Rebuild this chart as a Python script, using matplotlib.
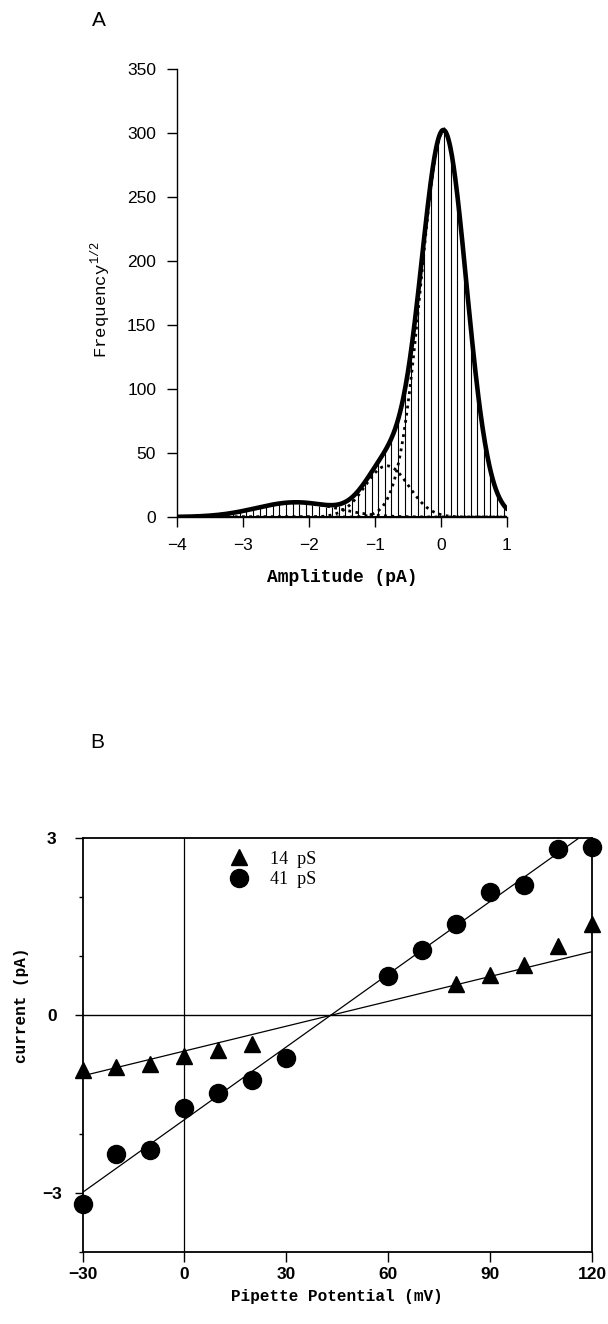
import matplotlib
matplotlib.use('Agg')
import matplotlib.pyplot as plt
import numpy as np

# ---- panel A: amplitude histogram (sqrt frequency) ----
bin_lo = -4.0
bin_w = 0.1
hist_vals = [0.5, 0.5, 0.6, 0.8, 1.0, 1.3, 1.8, 2.4, 3.2, 4.0,
             5.0, 6.2, 7.5, 8.5, 9.5, 10.0, 10.5, 10.8, 10.5, 10.0,
             9.3, 8.8, 8.2, 8.0, 8.6, 10.5, 14.0, 19.5, 26.0, 34.0,
             42.0, 50.0, 60.0, 76.0, 100.0, 132.0, 176.0, 222.0, 268.0, 296.0,
             305.0, 288.0, 250.0, 198.0, 145.0, 97.0, 59.0, 33.0, 16.0, 7.0]

# gaussian fit components (amplitude, mean pA, sd pA)
fit_amp = [301, 40, 11.5]
fit_mean = [0.04, -0.82, -2.2]
fit_sd = [0.345, 0.33, 0.6]

# ---- panel B: I-V relation ----
v14 = [-30, -20, -10, 0, 10, 20, 80, 90, 100, 110, 120]
i14 = [-0.93, -0.88, -0.82, -0.69, -0.58, -0.49, 0.53, 0.68, 0.86, 1.18, 1.55]
v41 = [-30, -20, -10, 0, 10, 20, 30, 60, 70, 80, 90, 100, 110, 120]
i41 = [-3.19, -2.34, -2.28, -1.57, -1.31, -1.09, -0.72, 0.66, 1.10, 1.55, 2.09, 2.21, 2.81, 2.85]
g_pS = [14, 41]
v_rev = 43.0

W, H = 608, 1324
fig = plt.figure(figsize=(W / 100, H / 100), dpi=100)

def px(x0, y0, x1, y1):
    return [x0 / W, 1 - y1 / H, (x1 - x0) / W, (y1 - y0) / H]

tickfont = 'Liberation Sans'
mono = 'Liberation Mono'

# ===== A =====
ax1 = fig.add_axes(px(177, 69, 507, 517))
centers = bin_lo + bin_w * (np.arange(len(hist_vals)) + 0.5)
ax1.vlines(centers, 0, hist_vals, color='black', linewidth=0.8)

xx = np.linspace(-4, 1, 600)
comps = [a * np.exp(-(xx - m) ** 2 / (2 * s ** 2)) for a, m, s in zip(fit_amp, fit_mean, fit_sd)]
for c in comps:
    ax1.plot(xx, c, color='black', linestyle=(0, (1, 1.6)), linewidth=2.0)
ax1.plot(xx, np.sum(comps, axis=0), color='black', linewidth=3.3, solid_capstyle='round')
ax1.axhline(0, color='black', linewidth=1.5)

ax1.set_xlim(-4, 1)
ax1.set_ylim(0, 350)
ax1.set_xticks(range(-4, 2))
ax1.set_xticklabels(['\u22124', '\u22123', '\u22122', '\u22121', '0', '1'])
ax1.set_yticks(range(0, 351, 50))
for s in ['top', 'right']:
    ax1.spines[s].set_visible(False)
for s in ['left', 'bottom']:
    ax1.spines[s].set_linewidth(1.0)
ax1.tick_params(direction='out', length=7, width=1.0, pad=8, labelsize=12.5)
for lab in ax1.get_xticklabels() + ax1.get_yticklabels():
    lab.set_family(tickfont)

fig.text(99 / W, 1 - 20 / H, 'A', fontsize=15, family=tickfont, ha='center', va='center')
fig.text(342 / W, 1 - 578 / H, 'Amplitude (pA)', fontsize=13, family=mono,
         weight='bold', ha='center', va='center')
fig.text(100 / W, 1 - 300 / H, 'Frequency$^{\\mathregular{1/2}}$', fontsize=12.5, family=mono,
         rotation=90, ha='center', va='center')

# ===== B =====
ax2 = fig.add_axes(px(82.5, 838, 592, 1252))
ax2.axhline(0, color='black', linewidth=1.0)
ax2.axvline(0, color='black', linewidth=0.9)

vv = np.array([-30, 120])
for g in g_pS:
    ax2.plot(vv, g * (vv - v_rev) / 1000.0, color='black', linewidth=0.9)

ax2.plot(v14, i14, linestyle='none', marker='^', markersize=11.5, color='black', label='14  pS', clip_on=False)
ax2.plot(v41, i41, linestyle='none', marker='o', markersize=13, color='black', label='41  pS', clip_on=False)

ax2.set_xlim(-30, 120)
ax2.set_ylim(-4, 3)
ax2.set_xticks(range(-30, 121, 30))
ax2.set_xticklabels(['\u221230', '0', '30', '60', '90', '120'])
ax2.set_yticks([-3, 0, 3])
ax2.set_yticklabels(['\u22123', '0', '3'])
ax2.set_yticks([-4, -2, -1, 1, 2], minor=True)
for s in ax2.spines.values():
    s.set_linewidth(1.3)
ax2.tick_params(axis='x', direction='out', length=7, width=1.0, pad=4, labelsize=12.5)
ax2.tick_params(axis='y', which='major', direction='out', length=6, width=1.0, pad=16, labelsize=12.5)
ax2.tick_params(axis='y', which='minor', direction='out', length=3, width=1.0)
for lab in ax2.get_xticklabels() + ax2.get_yticklabels():
    lab.set_family(tickfont)
    lab.set_weight('bold')
for lab in ax2.get_yticklabels():
    lab.set_horizontalalignment('center')

leg = ax2.legend(loc='upper left', bbox_to_anchor=(0.262, 1.0), frameon=False,
                 prop={'family': 'Liberation Serif', 'size': 13},
                 handletextpad=1.1, labelspacing=0.2, borderpad=0.2, handlelength=1.2)

fig.text(97 / W, 1 - 743 / H, 'B', fontsize=15, family=tickfont, ha='center', va='center')
fig.text(337 / W, 1 - 1297 / H, 'Pipette Potential (mV)', fontsize=11.5, family=mono,
         weight='bold', ha='center', va='center')
fig.text(22 / W, 1 - 1005 / H, 'current (pA)', fontsize=11.5, family=mono,
         weight='bold', rotation=90, ha='center', va='center')

fig.savefig('out.png', dpi=100)
